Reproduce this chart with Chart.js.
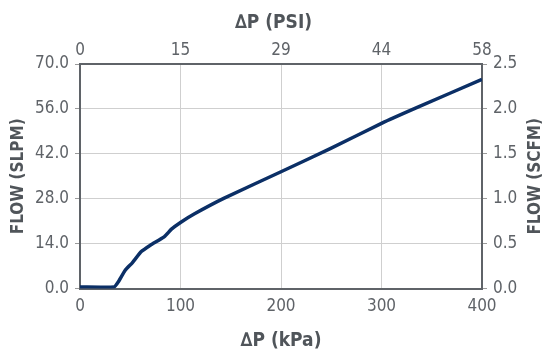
<!DOCTYPE html>
<html>
<head>
<meta charset="utf-8">
<script src="https://cdn.jsdelivr.net/npm/chart.js@4.4.1/dist/chart.umd.min.js"></script>
<style>
  html, body { margin: 0; padding: 0; background: #fff; }
  #chart { display: block; }
</style>
</head>
<body>
<canvas id="chart" width="547" height="352"></canvas>
<script>
// debietcurve: drukval (kPa) tegen flow (SLPM)
var kpa  = [0,   34,  38,  45,  52,  61,   70,   84,   91,   100,  114,  143,  200,  249,  300,  335,  400];
var slpm = [0.5, 0.5, 2.0, 5.7, 8.0, 11.5, 13.5, 16.2, 18.5, 20.6, 23.3, 28.1, 36.4, 43.6, 51.5, 56.4, 65.2];
var psiTicks = ["0", "15", "29", "44", "58"];
var rightTitle = "FLOW (SCFM)";

var FONT = "'Liberation Sans Narrow', 'DejaVu Sans Condensed', sans-serif";
var TICK_COL = "#5f6368";
var TITLE_COL = "#50555a";
var GRID_COL = "#cfcfcf";
var BORDER_COL = "#5f6368";
var TICK_FONT = { family: FONT, size: 17 };

var points = kpa.map(function (x, i) { return { x: x, y: slpm[i] }; });

function fixed(size) { return function (s) { if (s.isHorizontal()) s.height = size; else s.width = size; }; }

// rechter astitel leest van onder naar boven, net als de linker
var rightTitlePlugin = {
  id: "rightTitle",
  afterDraw: function (chart) {
    var ctx = chart.ctx, a = chart.chartArea;
    ctx.save();
    ctx.translate(536, (a.top + a.bottom) / 2);
    ctx.rotate(-Math.PI / 2);
    ctx.font = "bold 17px " + FONT;
    ctx.fillStyle = TITLE_COL;
    ctx.textAlign = "center";
    ctx.textBaseline = "middle";
    ctx.fillText(rightTitle, 0, 0);
    ctx.restore();
  },
};

new Chart(document.getElementById("chart"), {
  type: "line",
  data: {
    datasets: [{
      data: points, borderColor: "#0b2f66", backgroundColor: "#0b2f66",
      borderWidth: 3.5, pointRadius: 0, tension: 0.15, fill: false,
      xAxisID: "x", yAxisID: "y",
    }],
  },
  plugins: [rightTitlePlugin],
  options: {
    responsive: false, animation: false,
    layout: { padding: 0 },
    plugins: {
      legend: { display: false },
      tooltip: { enabled: false },
      title: {
        display: true, text: "\u2206P (PSI)", color: TITLE_COL,
        font: { family: FONT, size: 19, weight: "bold", lineHeight: 1.2 },
        padding: { top: 12, bottom: 0 },
      },
    },
    scales: {
      x: {
        type: "linear", position: "bottom", min: 0, max: 400,
        afterFit: fixed(63.5),
        ticks: { stepSize: 100, padding: 8, color: TICK_COL, font: TICK_FONT, maxRotation: 0 },
        grid: { color: GRID_COL, drawTicks: false },
        border: { color: BORDER_COL, width: 2 },
        title: { display: true, text: "\u2206P (kPa)", color: TITLE_COL, padding: { top: 0, bottom: 0 },
          font: { family: FONT, size: 19, weight: "bold", lineHeight: 1.2 } },
      },
      x2: {
        type: "linear", position: "top", min: 0, max: 400,
        afterFit: fixed(29.2),
        ticks: { stepSize: 100, padding: 3, color: TICK_COL, font: TICK_FONT, maxRotation: 0,
          callback: function (v, i) { return psiTicks[i]; } },
        grid: { drawOnChartArea: false, drawTicks: false },
        border: { color: BORDER_COL, width: 2 },
      },
      y: {
        type: "linear", position: "left", min: 0, max: 70,
        afterFit: fixed(80),
        ticks: { stepSize: 14, padding: 6, color: TICK_COL, font: TICK_FONT,
          callback: function (v) { return v.toFixed(1); } },
        grid: { color: GRID_COL, tickLength: 5, tickColor: "#9a9a9a" },
        border: { color: BORDER_COL, width: 2 },
        title: { display: true, text: "FLOW (SLPM)", color: TITLE_COL, padding: { top: 8, bottom: 0 },
          font: { family: FONT, size: 17, weight: "bold", lineHeight: 1.2 } },
      },
      y2: {
        type: "linear", position: "right", min: 0, max: 2.5,
        afterFit: fixed(65),
        ticks: { stepSize: 0.5, padding: 6, color: TICK_COL, font: TICK_FONT,
          callback: function (v) { return v.toFixed(1); } },
        grid: { drawOnChartArea: false, tickLength: 5, tickColor: "#9a9a9a" },
        border: { color: BORDER_COL, width: 2 },
      },
    },
  },
});
</script>
</body>
</html>
